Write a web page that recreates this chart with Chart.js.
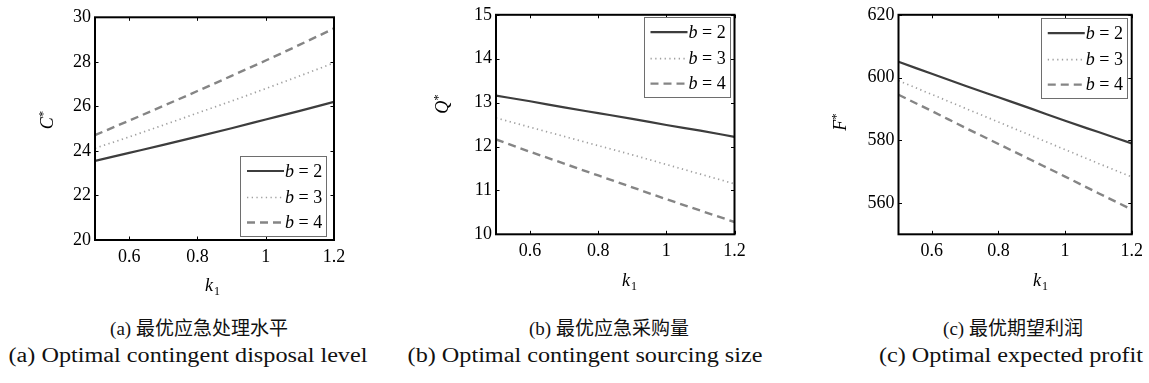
<!DOCTYPE html>
<html>
<head>
<meta charset="utf-8">
<script src="https://cdn.jsdelivr.net/npm/chart.js@4.4.0/dist/chart.umd.min.js"></script>
<style>
  html, body { margin:0; padding:0; background:#fff; }
  #root { position:relative; width:1149px; height:383px; overflow:hidden; background:#fff; }
  canvas { position:absolute; top:0; }
  .cap { position:absolute; white-space:nowrap; color:#111; }
  .zh { font-family:"Liberation Serif","Noto Sans CJK SC",serif; font-size:19px; transform:translate(-50%,-50%); }
  .en { font-family:"Liberation Serif",serif; font-size:20px; transform:translate(-50%,-50%) scaleX(1.21); }
</style>
</head>
<body>
<div id="root"></div>
<script>
// ---------------- data ----------------
const kValues = [0.5, 0.6, 0.7, 0.8, 0.9, 1.0, 1.1, 1.2];
const kTicks = [0.6, 0.8, 1, 1.2];
const seriesLabels = ['b = 2', 'b = 3', 'b = 4'];

// (a) optimal contingent disposal level C*
const cB2 = [23.55, 23.91, 24.27, 24.64, 25.02, 25.41, 25.80, 26.20];
const cB3 = [24.12, 24.63, 25.16, 25.70, 26.24, 26.80, 27.37, 27.95];
const cB4 = [24.71, 25.36, 26.02, 26.69, 27.37, 28.06, 28.77, 29.50];
const cTicks = [20, 22, 24, 26, 28, 30];

// (b) optimal contingent sourcing size Q*
const qB2 = [13.16, 13.03, 12.89, 12.76, 12.63, 12.49, 12.36, 12.22];
const qB3 = [12.65, 12.44, 12.23, 12.02, 11.81, 11.59, 11.37, 11.15];
const qB4 = [12.16, 11.88, 11.61, 11.34, 11.07, 10.80, 10.54, 10.28];
const qTicks = [10, 11, 12, 13, 14, 15];

// (c) optimal expected profit F*
const fB2 = [605.0, 601.2, 597.4, 593.7, 590.0, 586.2, 582.6, 579.0];
const fB3 = [599.0, 594.6, 590.2, 585.8, 581.4, 577.0, 572.6, 568.3];
const fB4 = [594.5, 589.3, 584.0, 578.8, 573.6, 568.4, 563.1, 557.9];
const fTicks = [560, 580, 600, 620];

const yTitles = ['C', 'Q', 'F'];
const xTitle = 'k';
const captionsZh = ['(a) 最优应急处理水平', '(b) 最优应急采购量', '(c) 最优期望利润'];
const captionsEn = ['(a) Optimal contingent disposal level', '(b) Optimal contingent sourcing size', '(c) Optimal expected profit'];

// ---------------- layout / style ----------------
const CANVAS_W = 383, CANVAS_H = 300;
const panels = [
  { left: 0,   area: {l: 95,    r: 334,   t: 17.3, b: 240},   yMin: 20,  yMax: 30,  yTicks: cTicks, series: [cB2, cB3, cB4],
    legend: {corner: 'br', dx: 8, dy: 4}, yT: {x: 47, y: 120}, xT: {x: 212, y: 285}, zhX: 199, enX: 188 },
  { left: 383, area: {l: 496,   r: 734.5, t: 12.7, b: 234.3}, yMin: 10,  yMax: 15,  yTicks: qTicks, series: [qB2, qB3, qB4],
    legend: {corner: 'tr', dx: 5, dy: 2.3}, yT: {x: 442, y: 104}, xT: {x: 629, y: 280}, zhX: 609, enX: 585 },
  { left: 766, area: {l: 898.5, r: 1137,  t: 14,   b: 234.3}, yMin: 550, yMax: 620, yTicks: fTicks, series: [fB2, fB3, fB4],
    legend: {corner: 'tr', dx: 5, dy: 3.3}, yT: {x: 840, y: 122}, xT: {x: 1040, y: 280}, zhX: 1013, enX: 1011 }
];
const lineStyles = [
  { color: '#3d3d3d', width: 2.2, dash: [] },
  { color: '#a0a0a0', width: 1.7, dash: [1.3, 3.4] },
  { color: '#858585', width: 2.4, dash: [8, 5] }
];
const SERIF = '"Liberation Serif", "Times New Roman", serif';
Chart.defaults.font.family = SERIF;
Chart.defaults.font.size = 18;
Chart.defaults.color = '#000';

// ---------------- plugins ----------------
const framePlugin = {
  id: 'frame',
  afterDatasetsDraw(chart, args, opts) {
    const ctx = chart.ctx, a = chart.chartArea;
    const xs = chart.scales.x, ys = chart.scales.y;
    ctx.save();
    ctx.strokeStyle = '#000';
    ctx.lineWidth = 1;
    const tl = 3.5;
    xs.ticks.forEach(t => {
      const px = Math.round(xs.getPixelForValue(t.value)) + 0.5;
      ctx.beginPath();
      ctx.moveTo(px, a.bottom); ctx.lineTo(px, a.bottom - tl);
      ctx.moveTo(px, a.top); ctx.lineTo(px, a.top + tl);
      ctx.stroke();
    });
    ys.ticks.forEach(t => {
      const py = Math.round(ys.getPixelForValue(t.value)) + 0.5;
      ctx.beginPath();
      ctx.moveTo(a.left, py); ctx.lineTo(a.left + tl, py);
      ctx.moveTo(a.right, py); ctx.lineTo(a.right - tl, py);
      ctx.stroke();
    });
    ctx.lineWidth = 2;
    ctx.strokeRect(a.left, a.top, a.right - a.left, a.bottom - a.top);
    ctx.restore();
  },
  afterDraw(chart, args, opts) {
    const ctx = chart.ctx, a = chart.chartArea;
    // legend
    const lw = 86, lh = 80;
    const bx = a.right - opts.dx - lw;
    const by = opts.corner === 'br' ? a.bottom - opts.dy - lh : a.top + opts.dy;
    ctx.save();
    ctx.fillStyle = '#fff';
    ctx.fillRect(bx, by, lw, lh);
    ctx.strokeStyle = '#6e6e6e';
    ctx.lineWidth = 1;
    ctx.strokeRect(Math.round(bx) + 0.5, Math.round(by) + 0.5, lw, lh);
    const rows = [15, 41.5, 66.5];
    chart.data.datasets.forEach((ds, i) => {
      const y = by + rows[i];
      ctx.beginPath();
      ctx.strokeStyle = ds.borderColor;
      ctx.lineWidth = ds.borderWidth;
      ctx.setLineDash(ds.borderDash || []);
      ctx.moveTo(bx + 7, y); ctx.lineTo(bx + 44, y);
      ctx.stroke();
      ctx.setLineDash([]);
      const parts = ds.label.split(' ');
      ctx.fillStyle = '#000';
      ctx.textBaseline = 'middle';
      ctx.textAlign = 'left';
      ctx.font = 'italic 18px ' + SERIF;
      ctx.fillText(parts[0], bx + 45, y + 1);
      const w0 = ctx.measureText(parts[0]).width;
      ctx.font = '18px ' + SERIF;
      ctx.fillText(' ' + parts.slice(1).join(' '), bx + 45 + w0, y + 1);
    });
    // axis titles
    const left = opts.canvasLeft;
    ctx.save();
    ctx.translate(opts.yT.x - left, opts.yT.y);
    ctx.rotate(-Math.PI / 2);
    ctx.font = 'italic 18px ' + SERIF;
    const wm = ctx.measureText(opts.yLetter).width;
    ctx.font = '13px ' + SERIF;
    const ws = ctx.measureText('*').width;
    const sx = -(wm + ws) / 2;
    ctx.fillStyle = '#000';
    ctx.textBaseline = 'alphabetic';
    ctx.textAlign = 'left';
    ctx.font = 'italic 18px ' + SERIF;
    ctx.fillText(opts.yLetter, sx, 6);
    ctx.font = '13px ' + SERIF;
    ctx.fillText('*', sx + wm, 0);
    ctx.restore();
    ctx.font = 'italic 18px ' + SERIF;
    ctx.textBaseline = 'alphabetic';
    ctx.textAlign = 'left';
    const wk = ctx.measureText(xTitle).width;
    ctx.fillText(xTitle, opts.xT.x - left - wk / 2 - 3, opts.xT.y + 6);
    ctx.font = '12px ' + SERIF;
    ctx.fillText('1', opts.xT.x - left + wk / 2 - 2, opts.xT.y + 10);
    ctx.restore();
  }
};

// ---------------- build ----------------
function build() {
  const root = document.getElementById('root');
  panels.forEach((p, pi) => {
    const cv = document.createElement('canvas');
    cv.width = CANVAS_W; cv.height = CANVAS_H;
    cv.style.left = p.left + 'px';
    cv.style.width = CANVAS_W + 'px'; cv.style.height = CANVAS_H + 'px';
    root.appendChild(cv);
    const area = { l: p.area.l - p.left, r: p.area.r - p.left, t: p.area.t, b: p.area.b };
    const datasets = p.series.map((vals, si) => ({
      label: seriesLabels[si],
      data: kValues.map((k, j) => ({ x: k, y: vals[j] })),
      borderColor: lineStyles[si].color,
      borderWidth: lineStyles[si].width,
      borderDash: lineStyles[si].dash,
      pointRadius: 0,
      fill: false,
      cubicInterpolationMode: 'monotone'
    }));
    new Chart(cv, {
      type: 'line',
      data: { datasets },
      options: {
        responsive: false,
        animation: false,
        devicePixelRatio: 1,
        layout: { padding: { left: 0, top: area.t, right: CANVAS_W - area.r, bottom: 0 } },
        plugins: {
          legend: { display: false },
          tooltip: { enabled: false },
          frame: { corner: p.legend.corner, dx: p.legend.dx, dy: p.legend.dy,
                   canvasLeft: p.left, yT: p.yT, xT: p.xT, yLetter: yTitles[pi] }
        },
        scales: {
          x: {
            type: 'linear', min: kValues[0], max: kValues[kValues.length - 1],
            afterBuildTicks: s => { s.ticks = kTicks.map(v => ({ value: v })); },
            afterFit: s => { s.height = CANVAS_H - area.b; },
            grid: { display: false, drawTicks: false },
            border: { display: false },
            ticks: { color: '#000', padding: 6, autoSkip: false, maxRotation: 0,
                     font: { family: SERIF, size: 18 }, callback: v => String(v) }
          },
          y: {
            type: 'linear', min: p.yMin, max: p.yMax,
            afterBuildTicks: s => { s.ticks = p.yTicks.map(v => ({ value: v })); },
            afterFit: s => { s.width = area.l; },
            grid: { display: false, drawTicks: false },
            border: { display: false },
            ticks: { color: '#000', padding: 4, autoSkip: false,
                     font: { family: SERIF, size: 18 }, callback: v => String(v) }
          }
        }
      },
      plugins: [framePlugin]
    });
    const zh = document.createElement('div');
    zh.className = 'cap zh'; zh.textContent = captionsZh[pi];
    zh.style.left = p.zhX + 'px'; zh.style.top = '326px';
    root.appendChild(zh);
    const en = document.createElement('div');
    en.className = 'cap en'; en.textContent = captionsEn[pi];
    en.style.left = p.enX + 'px'; en.style.top = '355px';
    root.appendChild(en);
  });
}
if (document.fonts && document.fonts.load) {
  Promise.all([
    document.fonts.load('18px "Liberation Serif"'),
    document.fonts.load('italic 18px "Liberation Serif"')
  ]).then(build, build);
} else {
  build();
}
</script>
</body>
</html>
